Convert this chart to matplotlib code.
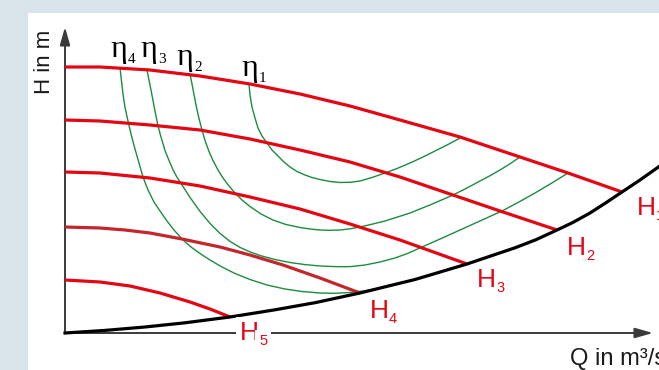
import numpy as np
import matplotlib.pyplot as plt
from matplotlib.patches import Rectangle

# ======================================================
# DATA  (Q = flow, H = head)
# ======================================================
# pump head curves H1..H5
h1_q = [0, 35, 85, 135, 185, 235, 285, 335, 395, 455, 503, 557]
h1_h = [266, 266, 263, 257, 249, 239, 227, 213, 196, 176, 160, 141]

h2_q = [0, 35, 85, 135, 185, 235, 285, 335, 385, 435, 492]
h2_h = [213, 212, 208, 203, 194, 183, 171, 156, 139, 122, 103]

h3_q = [0, 35, 85, 135, 185, 235, 285, 335, 402]
h3_h = [161, 160, 155, 147, 136, 124, 109, 93, 69]

h4_q = [0, 35, 60, 85, 117, 155, 185, 218, 255, 295]
h4_h = [106, 105, 103, 100, 94, 86, 78, 68, 55, 40]

h5_q = [0, 35, 65, 95, 125, 145, 165]
h5_h = [53, 51, 47, 40, 31, 24, 16]

# system curve
sys_q = [0, 40, 80, 120, 165, 210, 250, 295, 350, 402, 450, 471, 492, 508, 525, 541, 557, 575, 592, 605]
sys_h = [0, 2.6, 6, 10.2, 16, 23.2, 30.3, 40, 53.5, 69, 85.2, 93.3, 103, 110.6, 120, 130.3, 141, 153, 165, 174.5]

# efficiency contours
eta1_q = [184, 185, 187, 190, 193, 197, 202, 207, 213, 219, 225, 232, 240, 247, 255, 265, 275,
          285, 295, 307, 320, 332, 345, 357, 370, 383, 397]
eta1_h = [249, 238, 226, 215, 205, 197, 190, 183, 177, 171, 166, 161.5, 158, 155.5, 153.5, 151.5,
          150.5, 150.7, 152, 155.5, 160, 164.5, 170, 175.5, 182, 188.5, 196]

eta2_q = [125, 127, 129, 131, 134, 137, 140, 144, 148, 153, 158, 164, 170, 177, 185, 196, 208, 221,
          235, 245, 255, 265, 275, 285, 295, 307, 320, 332, 345, 365, 388, 402, 415, 425, 435, 445, 455]
eta2_h = [259, 249, 238.5, 228, 214.5, 203, 192.5, 181.5, 172.5, 163, 155, 147, 140, 133, 126.5, 119,
          113, 108.5, 105.5, 104, 103, 102.7, 103, 104.2, 106, 108.8, 112, 115.8, 120, 128, 138, 145,
          152, 157.3, 163, 169.2, 176]

eta3_q = [82, 84, 86, 88, 90, 93, 96, 100, 104, 108, 112, 117, 125, 135, 145, 155, 165, 175, 185, 195,
          210, 225, 240, 255, 270, 280, 287, 300, 315, 330, 343, 357, 376, 395, 416, 437, 453, 470, 486, 503]
eta3_h = [263, 253, 243, 232.5, 222, 207, 196, 182.5, 172.5, 163.3, 155.7, 148, 135.6, 121.6, 109.6,
          99.6, 91.6, 85.6, 81.1, 77.5, 73.5, 70.5, 68.4, 67, 66.4, 66.3, 66.5, 68, 71, 75, 79.7, 86,
          94.4, 103, 112.5, 122, 130.5, 140, 149.5, 160]

eta4_q = [55, 56.5, 58, 60, 63, 66, 70, 74, 78, 83, 89, 95, 102, 109, 117, 126, 135, 145, 157, 170,
          185, 202, 220, 237, 255, 270, 285, 298, 310, 325]
eta4_h = [265, 252, 239, 225.5, 212, 199, 184, 170, 156, 143, 131, 122, 112, 103, 94, 86, 79.5, 73,
          66, 59.5, 53.5, 48, 44, 41.5, 40, 39.7, 40.5, 42, 44, 48]

h_curves = [(h1_q, h1_h), (h2_q, h2_h), (h3_q, h3_h), (h4_q, h4_h), (h5_q, h5_h)]
eta_curves = [(eta1_q, eta1_h), (eta2_q, eta2_h), (eta3_q, eta3_h), (eta4_q, eta4_h)]

# label anchors (left / baseline)
h_labels = ["1", "2", "3", "4", "5"]
h_label_q = [572, 502, 412, 305, 175]
h_label_h = [118, 78, 46, 15, -7]

eta_labels = ["1", "2", "3", "4"]
eta_label_q = [178, 113, 77, 47]
eta_label_h = [257, 268, 276, 276]

# ======================================================
# STYLE
# ======================================================
RED = "#e30613"
RED_DARK = "#c1272d"
GREEN = "#1b8c3e"
AXIS = "#3a3a3a"
BG = "#d9e3ea"
SANS = "Liberation Sans"
SERIF = "Liberation Serif"

fig = plt.figure(figsize=(6.59, 3.70), dpi=100)
fig.patch.set_facecolor(BG)
fig.patches.append(Rectangle((28 / 659, 0), 1, 357 / 370, transform=fig.transFigure,
                             facecolor="white", edgecolor="none", zorder=-5))

ax = fig.add_axes([0, 0, 1, 1], zorder=1)
ax.set_xlim(-65, 594)
ax.set_ylim(-37, 333)
ax.set_facecolor("none")
ax.axis("off")

# axes with arrows
arrow = dict(arrowstyle="-|>,head_length=0.6,head_width=0.17", color=AXIS, lw=1.4,
             mutation_scale=18, shrinkA=0, shrinkB=0)
ax.annotate("", xy=(0, 306), xytext=(0, 0), arrowprops=arrow, zorder=2)
ax.annotate("", xy=(588, 0), xytext=(0, 0), arrowprops=arrow, zorder=2)

# efficiency contours
for q, h in eta_curves:
    ax.plot(q, h, color=GREEN, lw=1.0, zorder=3)

# head curves
for i, (q, h) in enumerate(h_curves):
    ax.plot(q, h, color=RED_DARK if i == 3 else RED, lw=2.3, zorder=4,
            solid_capstyle="butt", solid_joinstyle="round")

# system curve
ax.plot(sys_q, sys_h, color="black", lw=2.3, zorder=5, solid_joinstyle="round")

# H labels
for lab, q, h in zip(h_labels, h_label_q, h_label_h):
    box = dict(facecolor="white", edgecolor="none", pad=3) if lab == "5" else None
    ax.text(q, h, "H", color=RED, fontsize=19, family=SANS, ha="left", va="baseline",
            zorder=6, bbox=box)
    ax.text(q + 19, h - 5, lab, color=RED, fontsize=10.5, family=SANS, ha="left",
            va="baseline", zorder=6, bbox=box)

# eta labels
for lab, q, h in zip(eta_labels, eta_label_q, eta_label_h):
    ax.text(q - 2, h, "\u03b7", color="black", fontsize=23, family=SERIF, ha="left",
            va="baseline", zorder=6)
    ax.text(q + 16, h - 6, lab, color="black", fontsize=11, family=SERIF, ha="left",
            va="baseline", zorder=6)

# axis titles
ax.text(-20, 271, "H in m", rotation=90, fontsize=16, family=SANS, color="#1a1a1a",
        ha="center", va="center")
ax.text(505, -32, "Q in m\u00b3/s", fontsize=17, family=SANS, color="#1a1a1a",
        ha="left", va="baseline")

fig.savefig("out.png", dpi=100, facecolor=fig.get_facecolor())
